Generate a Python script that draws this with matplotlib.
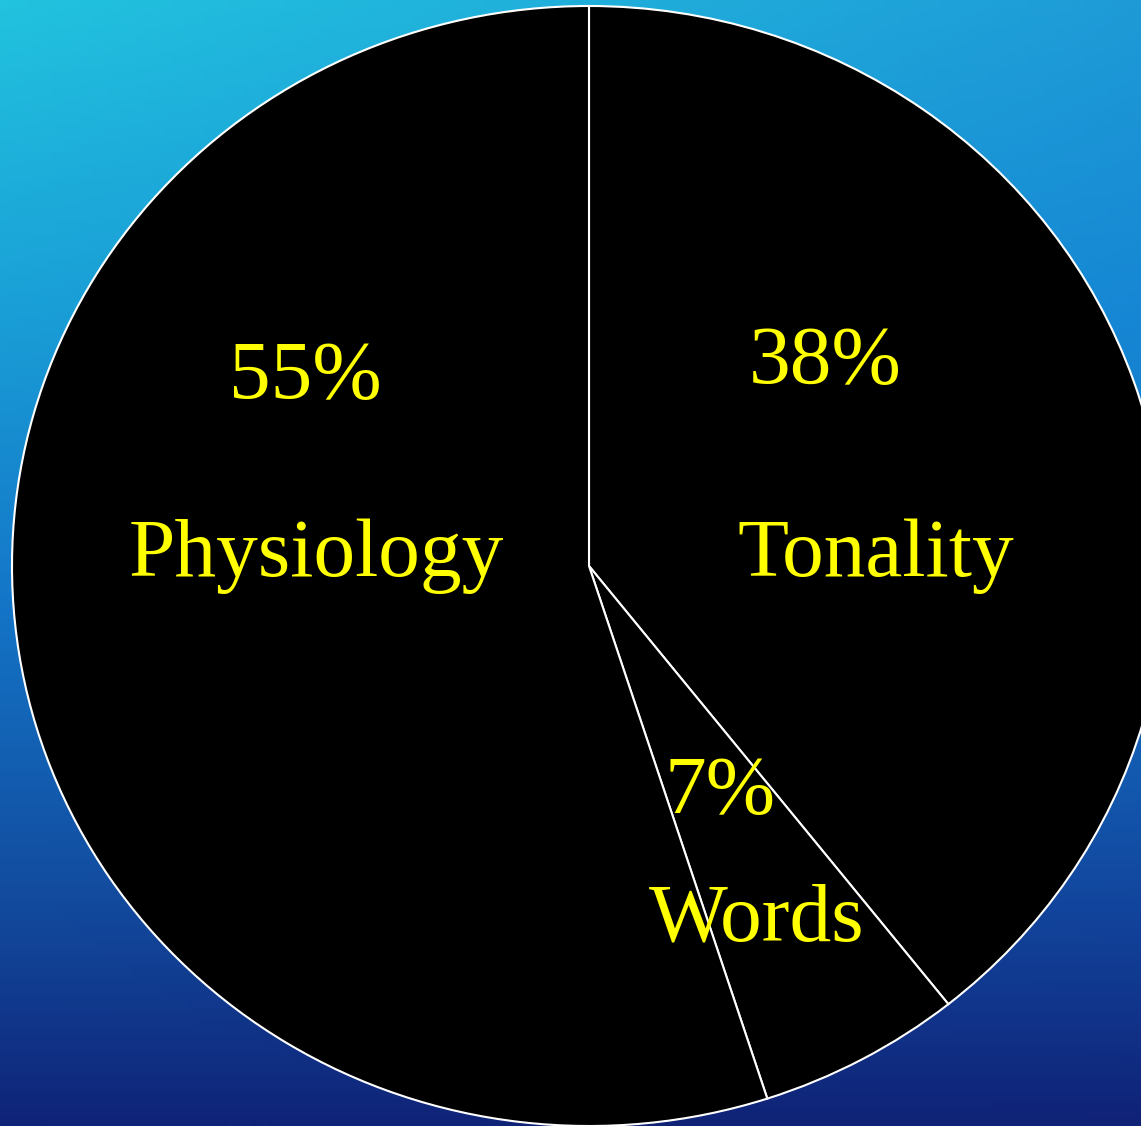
import numpy as np
import matplotlib.pyplot as plt

# Slice sizes and printed labels
categories = ['Tonality', 'Words', 'Physiology']
sizes = [39.3, 5.7, 55.0]
pct_labels = ['38%', '7%', '55%']

W, H = 1141, 1126
fig = plt.figure(figsize=(W / 100, H / 100), dpi=100)

# background gradient (left column / right column colour stops, top to bottom)
ys = np.array([0.0, 0.27, 0.53, 0.8, 1.0])
left_c = np.array([[34, 195, 223], [26, 160, 215], [20, 118, 200], [18, 75, 158], [15, 36, 120]]) / 255
right_c = np.array([[30, 155, 215], [22, 135, 212], [20, 118, 200], [18, 70, 158], [15, 34, 118]]) / 255
yy = np.linspace(0, 1, 200)
xx = np.linspace(0, 1, 200)
lc = np.stack([np.interp(yy, ys, left_c[:, k]) for k in range(3)], axis=1)
rc = np.stack([np.interp(yy, ys, right_c[:, k]) for k in range(3)], axis=1)
grad = lc[:, None, :] * (1 - xx[None, :, None]) + rc[:, None, :] * xx[None, :, None]
bg = fig.add_axes([0, 0, 1, 1])
bg.imshow(grad, aspect='auto', extent=[0, 1, 0, 1], origin='upper')
bg.axis('off')

# pie axes: slightly wider than tall, clipped on the right
cx, cy, rx, ry = 589, 566, 577, 560
ax = fig.add_axes([(cx - rx) / W, (H - cy - ry) / H, 2 * rx / W, 2 * ry / H])
ax.pie(sizes, startangle=90, counterclock=False, colors=['black'] * 3,
       wedgeprops=dict(edgecolor='white', linewidth=1.5), radius=1.0)
ax.set_xlim(-1, 1)
ax.set_ylim(-1, 1)
ax.set_aspect('auto')
ax.axis('off')

font = dict(family='Liberation Serif', color='yellow', ha='center', va='center', fontsize=60)
def px(x, y):
    return x / W, 1 - y / H

fig.text(*px(305, 378), pct_labels[2], **font)
fig.text(*px(316, 556), categories[2], **font)
fig.text(*px(825, 363), pct_labels[0], **font)
fig.text(*px(876, 556), categories[0], **font)
fig.text(*px(720, 793), pct_labels[1], **font)
fig.text(*px(757, 921), categories[1], **font)

fig.savefig('out.png', dpi=100)
